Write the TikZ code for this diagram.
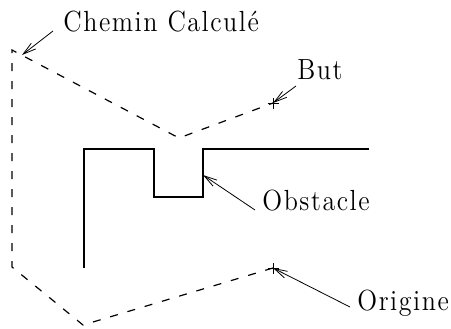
\documentclass[tikz,border=0pt]{standalone}
\usepackage{graphicx}
\usepackage{fontspec}
\newfontfamily\labfont{Latin Modern Roman}[LetterSpace=6]
\usetikzlibrary{arrows.meta}
\begin{document}
\begin{tikzpicture}[x=0.5pt,y=-0.5pt,
  lab/.style={anchor=base west,inner sep=0pt,font=\labfont\fontsize{13}{15}\selectfont},
  path/.style={line width=0.6pt,dash pattern=on 4pt off 5pt},
  obst/.style={line width=1.2pt},
  ptr/.style={line width=0.4pt,-{Straight Barb[length=6.5pt,width=3.6pt]}},
  cross/.style={line width=0.5pt}]
\useasboundingbox (0,0) rectangle (451,328);
% points
\coordinate (orig) at (273,268);
\coordinate (bl) at (83,325);
\coordinate (lb) at (12,267);
\coordinate (lt) at (12,50);
\coordinate (mid) at (179,138);
\coordinate (but) at (273,103);
\coordinate (obs) at (203,175);
\coordinate (chem) at (22,55);
% obstacle
\draw[obst] (84,268) -- (84,149) -- (154,149) -- (154,197) -- (203,197) -- (203,149) -- (369,149);
% path
\draw[path] (orig) -- (bl) -- (lb) -- (lt) -- (mid) -- (but);
% crosses
\draw[cross] ([xshift=-2.75pt]but) -- ([xshift=2.75pt]but) ([yshift=-2.75pt]but) -- ([yshift=2.75pt]but);
\draw[cross] ([xshift=-2.75pt]orig) -- ([xshift=2.75pt]orig) ([yshift=-2.75pt]orig) -- ([yshift=2.75pt]orig);
% labels
\node[lab] (lchemin) at (63,31) {\scalebox{1}[1.12]{Chemin Calculé}};
\node[lab] (lbut) at (297,79) {\scalebox{1}[1.12]{But}};
\node[lab] (lobs) at (262,210) {\scalebox{1}[1.12]{Obstacle}};
\node[lab] (lorig) at (357,310) {\scalebox{1}[1.12]{Origine}};
% pointers
\draw[ptr] ([xshift=-5pt]lchemin.base west) -- (chem);
\draw[ptr] ([xshift=-0.5pt,yshift=-3.5pt]lbut.base west) -- (but);
\draw[ptr] ([xshift=-3.5pt]lobs.base west) -- (obs);
\draw[ptr] ([xshift=-3.5pt,yshift=1.5pt]lorig.base west) -- (orig);
\end{tikzpicture}
\end{document}
